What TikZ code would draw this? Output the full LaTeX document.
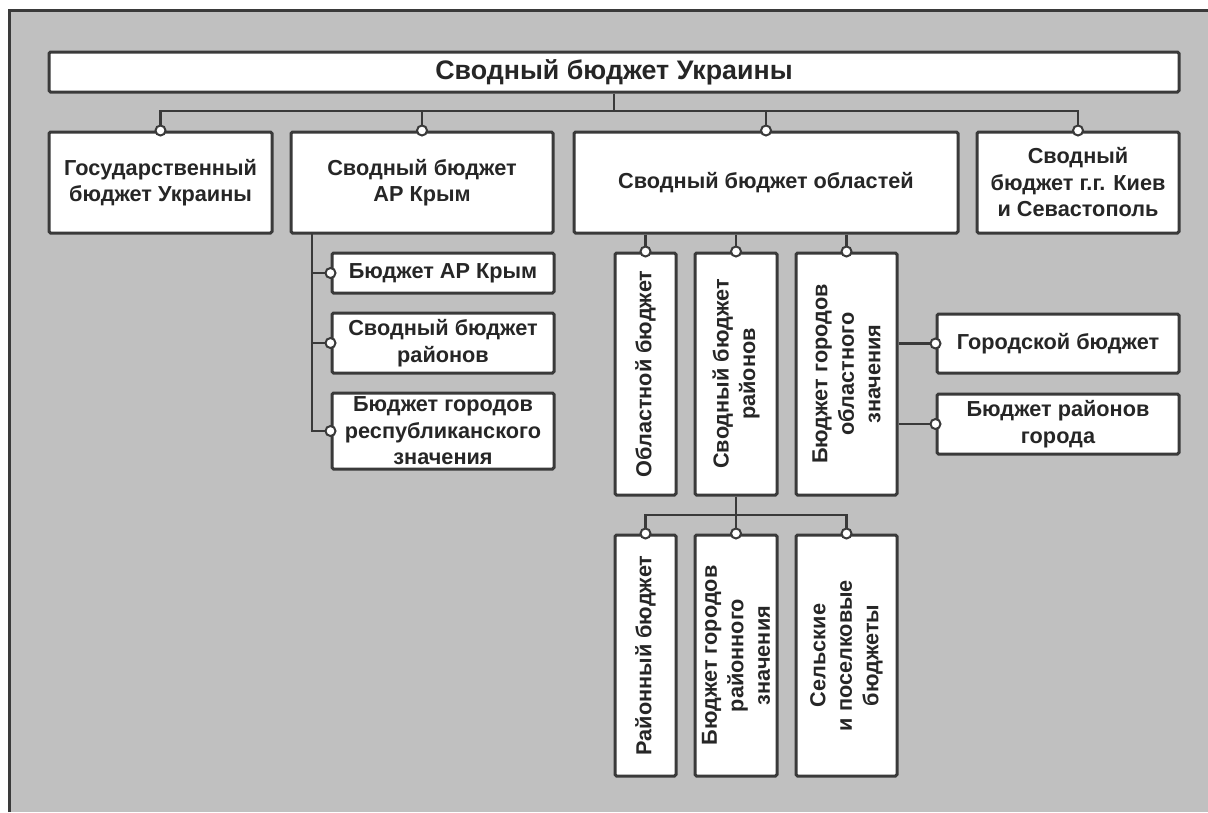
\documentclass[tikz,border=0pt]{standalone}
\usepackage{fontspec}
\setmainfont{Liberation Sans}
\definecolor{bg}{HTML}{C0C0C0}
\definecolor{ln}{HTML}{3A3A3A}
\tikzset{
  bx/.style={draw=ln, line width=3pt, fill=white, rounded corners=1.5pt, inner sep=0pt},
  txt/.style={align=center, inner sep=0pt, font=\fontsize{21.7}{26.5}\selectfont\bfseries, text=black!85},
  conn/.style={draw=ln, line width=2.5pt},
  dotst/.style={draw=ln, fill=white, line width=2pt},
}
\begin{document}
\begin{tikzpicture}[x=1pt,y=-1pt]
\useasboundingbox (0,0) rectangle (1208,812);
\fill[white] (0,0) rectangle (1208,812);
\fill[bg] (8,9) rectangle (1208,812);
\draw[ln, line width=3pt] (9.5,812) -- (9.5,10.5) -- (1208,10.5);
% level 0
\node[bx, minimum width=1130pt, minimum height=40pt] (T) at (614,72) {};
\node[txt, font=\fontsize{26.8}{30}\selectfont\bfseries] (Tt) at (T.center) {Сводный бюджет Украины};
% level 1
\node[bx, minimum width=223pt, minimum height=101pt] (A) at (160.5,182.5) {};
\node[txt] (At) at (A.center) {Государственный\\бюджет Украины};
\node[bx, minimum width=262pt, minimum height=101pt] (B) at (422,182.5) {};
\node[txt] (Bt) at (B.center) {Сводный бюджет\\АР Крым};
\node[bx, minimum width=384pt, minimum height=101pt] (C) at (766,182.5) {};
\node[txt] (Ct) at (C.center) {Сводный бюджет областей};
\node[bx, minimum width=202pt, minimum height=101pt] (D) at (1078,182.5) {};
\node[txt] (Dt) at (D.center) {Сводный\\бюджет г.г. Киев\\и Севастополь};
% Crimea children
\node[bx, minimum width=222pt, minimum height=40pt] (K1) at (443,273) {};
\node[txt] (K1t) at (K1.center) {Бюджет АР Крым};
\node[bx, minimum width=222pt, minimum height=60pt] (K2) at (443,343) {};
\node[txt] (K2t) at (K2.center) {Сводный бюджет\\районов};
\node[bx, minimum width=222pt, minimum height=76pt] (K3) at (443,431) {};
\node[txt] (K3t) at (K3.center) {Бюджет городов\\республиканского\\значения};
% oblast children
\node[bx, minimum width=61pt, minimum height=242pt] (O1) at (645.5,374) {};
\node[txt, rotate=90] (O1t) at (O1.center) {Областной бюджет};
\node[bx, minimum width=82pt, minimum height=242pt] (O2) at (736,374) {};
\node[txt, rotate=90] (O2t) at (O2.center) {Сводный бюджет\\районов};
\node[bx, minimum width=101pt, minimum height=242pt] (O3) at (846.5,374) {};
\node[txt, rotate=90] (O3t) at (O3.center) {Бюджет городов\\областного\\значения};
% city children
\node[bx, minimum width=242pt, minimum height=59pt] (G1) at (1058,343.5) {};
\node[txt] (G1t) at (G1.center) {Городской бюджет};
\node[bx, minimum width=242pt, minimum height=60pt] (G2) at (1058,424) {};
\node[txt] (G2t) at (G2.center) {Бюджет районов\\города};
% district children
\node[bx, minimum width=61pt, minimum height=241pt] (R1) at (645.5,655.5) {};
\node[txt, rotate=90] (R1t) at (R1.center) {Районный бюджет};
\node[bx, minimum width=82pt, minimum height=241pt] (R2) at (736,655.5) {};
\node[txt, rotate=90] (R2t) at (R2.center) {Бюджет городов\\районного\\значения};
\node[bx, minimum width=101pt, minimum height=241pt] (R3) at (846.5,655.5) {};
\node[txt, rotate=90] (R3t) at (R3.center) {Сельские\\и поселковые\\бюджеты};
% connectors
\coordinate (bus) at (614,111);
\coordinate (kt) at (312,233);
\coordinate (bus2) at (736,515);
\draw[conn] (T.south) -- (T.south |- bus);
\draw[conn] (A.north) |- (bus) -| (D.north);
\draw[conn] (B.north) -- (B.north |- bus);
\draw[conn] (C.north) -- (C.north |- bus);
\draw[conn] (kt) |- (K3.west);
\draw[conn] (kt |- K1.west) -- (K1.west);
\draw[conn] (kt |- K2.west) -- (K2.west);
\draw[conn] (C.south -| O1.north) -- (O1.north);
\draw[conn] (C.south -| O2.north) -- (O2.north);
\draw[conn] (C.south -| O3.north) -- (O3.north);
\draw[conn] (O3.east |- G1.west) -- (G1.west);
\draw[conn] (O3.east |- G2.west) -- (G2.west);
\draw[conn] (O2.south) -- (R2.north);
\draw[conn] (R1.north) |- (bus2) -| (R3.north);
% connection dots
\foreach \p in {A.north,B.north,C.north,D.north,K1.west,K2.west,K3.west,O1.north,O2.north,O3.north,G1.west,G2.west,R1.north,R2.north,R3.north}
  \draw[dotst] (\p) circle (5pt);
\end{tikzpicture}
\end{document}
